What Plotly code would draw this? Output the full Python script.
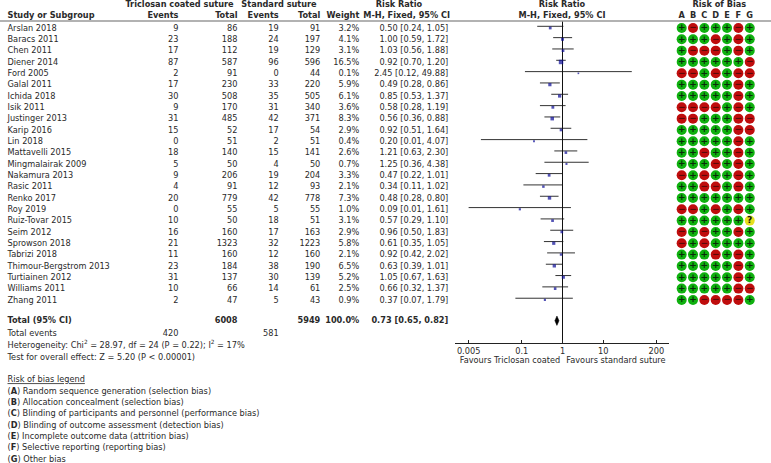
import plotly.graph_objects as go

studies = ["Arslan 2018", "Baracs 2011", "Chen 2011", "Diener 2014", "Ford 2005", "Galal 2011", "Ichida 2018",
           "Isik 2011", "Justinger 2013", "Karip 2016", "Lin 2018", "Mattavelli 2015", "Mingmalairak 2009",
           "Nakamura 2013", "Rasic 2011", "Renko 2017", "Roy 2019", "Ruiz-Tovar 2015", "Seim 2012",
           "Sprowson 2018", "Tabrizi 2018", "Thimour-Bergstrom 2013", "Turtiainen 2012", "Williams 2011",
           "Zhang 2011"]
events_t = [9, 23, 17, 87, 2, 17, 30, 9, 31, 15, 0, 18, 5, 9, 4, 20, 0, 10, 16, 21, 11, 23, 31, 10, 2]
total_t = [86, 188, 112, 587, 91, 230, 508, 170, 485, 52, 51, 140, 50, 206, 91, 779, 55, 50, 160, 1323, 160, 184,
           137, 66, 47]
events_s = [19, 24, 19, 96, 0, 33, 35, 31, 42, 17, 2, 15, 4, 19, 12, 42, 5, 18, 17, 32, 12, 38, 30, 14, 5]
total_s = [91, 197, 129, 596, 44, 220, 505, 340, 371, 54, 51, 141, 50, 204, 93, 778, 55, 51, 163, 1223, 160, 190,
           139, 61, 43]
weight = [3.2, 4.1, 3.1, 16.5, 0.1, 5.9, 6.1, 3.6, 8.3, 2.9, 0.4, 2.6, 0.7, 3.3, 2.1, 7.3, 1.0, 3.1, 2.9, 5.8, 2.1,
          6.5, 5.2, 2.5, 0.9]
rr = [0.50, 1.00, 1.03, 0.92, 2.45, 0.49, 0.85, 0.58, 0.56, 0.92, 0.20, 1.21, 1.25, 0.47, 0.34, 0.48, 0.09, 0.57,
      0.96, 0.61, 0.92, 0.63, 1.05, 0.66, 0.37]
ci_low = [0.24, 0.59, 0.56, 0.70, 0.12, 0.28, 0.53, 0.28, 0.36, 0.51, 0.01, 0.63, 0.36, 0.22, 0.11, 0.28, 0.005,
          0.29, 0.50, 0.35, 0.42, 0.39, 0.67, 0.32, 0.07]
ci_high = [1.05, 1.72, 1.88, 1.20, 49.88, 0.86, 1.37, 1.19, 0.88, 1.64, 4.07, 2.30, 4.38, 1.01, 1.02, 0.80, 1.61,
           1.10, 1.83, 1.05, 2.02, 1.01, 1.63, 1.37, 1.79]
rr_labels = ["0.50 [0.24, 1.05]", "1.00 [0.59, 1.72]", "1.03 [0.56, 1.88]", "0.92 [0.70, 1.20]",
             "2.45 [0.12, 49.88]", "0.49 [0.28, 0.86]", "0.85 [0.53, 1.37]", "0.58 [0.28, 1.19]",
             "0.56 [0.36, 0.88]", "0.92 [0.51, 1.64]", "0.20 [0.01, 4.07]", "1.21 [0.63, 2.30]",
             "1.25 [0.36, 4.38]", "0.47 [0.22, 1.01]", "0.34 [0.11, 1.02]", "0.48 [0.28, 0.80]",
             "0.09 [0.01, 1.61]", "0.57 [0.29, 1.10]", "0.96 [0.50, 1.83]", "0.61 [0.35, 1.05]",
             "0.92 [0.42, 2.02]", "0.63 [0.39, 1.01]", "1.05 [0.67, 1.63]", "0.66 [0.32, 1.37]",
             "0.37 [0.07, 1.79]"]
bias_letters = ["A", "B", "C", "D", "E", "F", "G"]
bias = ["+-+++-+", "+++-+-+", "+---+-+", "++++++-", "--+-+--", "+++++-+", "+++++-+", "----+-+", "--+++--",
        "+++++--", "+++++-+", "++-++-+", "+++-+-+", "-+-++-+", "++--+-+", "+++++++", "--+-+-+", "++++++?",
        "-+-++-+", "-+-++++", "+++-+-+", "+++++-+", "+++++-+", "+++++--", "++----+"]
total_rr = 0.73
total_low = 0.65
total_high = 0.82
legend_lines = ["(<b>A</b>) Random sequence generation (selection bias)",
                "(<b>B</b>) Allocation concealment (selection bias)",
                "(<b>C</b>) Blinding of participants and personnel (performance bias)",
                "(<b>D</b>) Blinding of outcome assessment (detection bias)",
                "(<b>E</b>) Incomplete outcome data (attrition bias)",
                "(<b>F</b>) Selective reporting (reporting bias)",
                "(<b>G</b>) Other bias"]

FONT = "DejaVu Sans"
SIZE = 8.2
W, H = 771, 463
AXIS_Y = 343.3
row_y = [28 + 11.33 * i for i in range(len(studies))]

fig = go.Figure()


# text in page pixels, on the hidden x2 axis
def add_text(x, y, text, position="middle left", xaxis="x2"):
    fig.add_trace(go.Scatter(x=x, y=[v + 0.7 for v in y], text=text, mode="text", xaxis=xaxis, yaxis="y",
                             textposition=position, cliponaxis=False, hoverinfo="skip",
                             textfont=dict(family=FONT, size=SIZE, color="#2a2a2a")))


# headers
add_text([179.5, 279, 399, 562, 719.3], [4] * 5,
         ["<b>Triclosan coated suture</b>", "<b>Standard suture</b>", "<b>Risk Ratio</b>", "<b>Risk Ratio</b>",
          "<b>Risk of Bias</b>"], "middle center")
add_text([7.5], [15.5], ["<b>Study or Subgroup</b>"], "middle right")
add_text([178.5, 237.5, 278.7, 320.3, 359.3], [15.5] * 5,
         ["<b>Events</b>", "<b>Total</b>", "<b>Events</b>", "<b>Total</b>", "<b>Weight</b>"])
add_text([406.7, 562], [15.5, 15.5], ["<b>M-H, Fixed, 95% CI</b>"] * 2, "middle center")

# table columns
add_text([7.5] * len(studies), row_y, studies, "middle right")
add_text([178.5] * len(studies), row_y, events_t)
add_text([237.5] * len(studies), row_y, total_t)
add_text([278.7] * len(studies), row_y, events_s)
add_text([320.3] * len(studies), row_y, total_s)
add_text([359.3] * len(studies), row_y, [f"{w:.1f}%" for w in weight])
add_text([448.3] * len(studies), row_y, rr_labels)

# totals and footnotes
add_text([7.5], [320.7], ["<b>Total (95% CI)</b>"], "middle right")
add_text([237.5, 320.3, 359.3, 448.3], [320.7] * 4,
         ["<b>6008</b>", "<b>5949</b>", "<b>100.0%</b>", "<b>0.73 [0.65, 0.82]</b>"])
add_text([7.5], [333.5], ["Total events"], "middle right")
add_text([178.5, 278.7], [333.5, 333.5], ["420", "581"])
add_text([7.5, 7.5], [345, 357], ["Heterogeneity: Chi<sup>2</sup> = 28.97, df = 24 (P = 0.22); I<sup>2</sup> = 17%",
                                  "Test for overall effect: Z = 5.20 (P < 0.00001)"], "middle right")
add_text([7.5], [379.5], ["<u>Risk of bias legend</u>"], "middle right")
add_text([7.5] * 7, [391 + 11.33 * i for i in range(7)], legend_lines, "middle right")

# forest plot
add_text([560.3], [360.5], ["Favours Triclosan coated"])
add_text([566.3], [360.5], ["Favours standard suture"], "middle right")

ci_x, ci_y = [], []
for i in range(len(studies)):
    ci_x += [ci_low[i], ci_high[i], None]
    ci_y += [row_y[i] - 1.7, row_y[i] - 1.7, None]
fig.add_trace(go.Scatter(x=ci_x, y=ci_y, mode="lines", xaxis="x", yaxis="y2", hoverinfo="skip",
                         line=dict(color="#333333", width=1)))
fig.add_trace(go.Scatter(x=[1, 1], y=[21, AXIS_Y], mode="lines", xaxis="x", yaxis="y2", hoverinfo="skip",
                         line=dict(color="#111111", width=1)))
fig.add_trace(go.Scatter(x=rr, y=row_y, mode="markers", xaxis="x", yaxis="y2", hoverinfo="skip",
                         marker=dict(symbol="square", color="#0a0a96", line_width=0,
                                     size=[1.4 + 0.75 * w ** 0.5 for w in weight])))
fig.add_trace(go.Scatter(x=[total_low, total_rr, total_high, total_rr, total_low],
                         y=[320.7, 316, 320.7, 325.4, 320.7], mode="lines", fill="toself", fillcolor="#000000",
                         xaxis="x", yaxis="y2", line=dict(color="#000000", width=0.5), hoverinfo="skip"))

# risk of bias grid
add_text(list(range(7)), [15.5] * 7, [f"<b>{c}</b>" for c in bias_letters], "middle center", xaxis="x3")
styles = {"+": ("#0fb00f", "+", "#0a2a0a"), "-": ("#bf0d0d", "−", "#5a0808"), "?": ("#e6e01e", "?", "#111111")}
for level, (color, glyph, text_color) in styles.items():
    xs, ys = [], []
    for i, row in enumerate(bias):
        for j, mark in enumerate(row):
            if mark == level:
                xs.append(j)
                ys.append(row_y[i])
    fig.add_trace(go.Scatter(x=xs, y=ys, mode="markers+text", xaxis="x3", yaxis="y", text=[f"<b>{glyph}</b>"] * len(xs),
                             textposition="middle center", hoverinfo="skip",
                             textfont=dict(family=FONT, size=9, color=text_color),
                             marker=dict(symbol="circle", size=10, color=color, line_width=0)))

fig.add_shape(type="line", xref="paper", yref="y", x0=0, x1=1, y0=21, y1=21, line=dict(color="#999999", width=1.5))

fig.update_layout(
    width=W, height=H, margin=dict(l=0, r=0, t=0, b=0), showlegend=False,
    paper_bgcolor="white", plot_bgcolor="rgba(0,0,0,0)",
    font=dict(family=FONT, size=SIZE, color="#2a2a2a"),
    yaxis=dict(domain=[0, 1], range=[H, 0], visible=False, showgrid=False, zeroline=False),
    yaxis2=dict(domain=[1 - AXIS_Y / H, 1], range=[AXIS_Y, 0], anchor="x", visible=False, showgrid=False,
                zeroline=False),
    xaxis=dict(type="log", domain=[455 / W, 669 / W], range=[-2.635, 2.61], anchor="y2",
               showline=True, linecolor="#222222", linewidth=1, showgrid=False,
               zeroline=False, ticks="inside", ticklen=3, tickcolor="#222222",
               tickvals=[0.005, 0.1, 1, 10, 200], ticktext=["0.005", "0.1", "1", "10", "200"],
               tickfont=dict(family=FONT, size=SIZE, color="#2a2a2a")),
    xaxis2=dict(domain=[0, 1], range=[0, W], anchor="y", visible=False, showgrid=False, zeroline=False),
    xaxis3=dict(domain=[676 / W, 755.4 / W], range=[-0.5, 6.5], anchor="y", visible=False, showgrid=False,
                zeroline=False),
)

# default body margin would push the figure 8px in and out of the window
fig.write_html("out.html", config={"displayModeBar": False}, post_script="document.body.style.margin='0';")
